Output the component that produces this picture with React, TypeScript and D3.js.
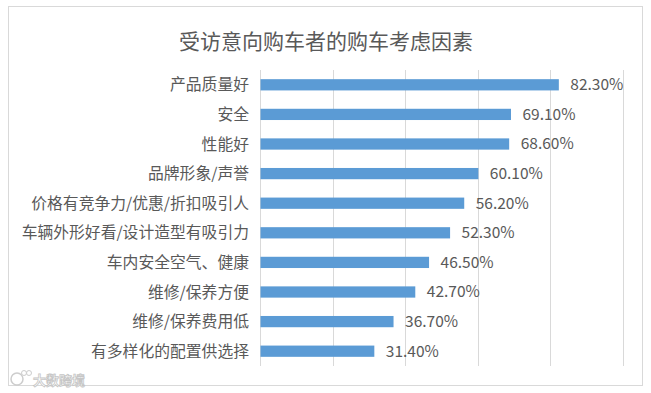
import React from "react";
import * as d3 from "d3";

const title = "受访意向购车者的购车考虑因素";
const categories = [
  "产品质量好",
  "安全",
  "性能好",
  "品牌形象/声誉",
  "价格有竞争力/优惠/折扣吸引人",
  "车辆外形好看/设计造型有吸引力",
  "车内安全空气、健康",
  "维修/保养方便",
  "维修/保养费用低",
  "有多样化的配置供选择",
];
const values = [82.3, 69.1, 68.6, 60.1, 56.2, 52.3, 46.5, 42.7, 36.7, 31.4];
const gridTicks = [0, 20, 40, 60, 80, 100];
const watermark = "大数跨境";

const W = 651;
const H = 393;
const FONT = "'Microsoft YaHei', 'Noto Sans CJK SC', sans-serif";
const TEXT = "#595959";

export default function App() {
  const x = d3.scaleLinear().domain([0, 100]).range([260, 622.5]);
  const y = d3
    .scaleBand<string>()
    .domain(categories)
    .range([70, 366])
    .paddingInner(0.62)
    .paddingOuter(0.31);

  return (
    <svg
      width={W}
      height={H}
      style={{ position: "absolute", left: 0, top: 0, background: "#fff" }}
      fontFamily={FONT}
    >
      <rect x={0} y={0} width={W} height={H} fill="#fff" />
      <rect x={8.5} y={6.5} width={634} height={379} fill="#fff" stroke="#d9d9d9" strokeWidth={1} />
      <text x={326} y={49} textAnchor="middle" fontSize={21} fill={TEXT}>
        {title}
      </text>
      {gridTicks.map((t) => (
        <line
          key={t}
          x1={Math.round(x(t)) + 0.5}
          x2={Math.round(x(t)) + 0.5}
          y1={70}
          y2={366}
          stroke="#d9d9d9"
          strokeWidth={1}
        />
      ))}
      {categories.map((c, i) => {
        const by = y(c)!;
        const bh = y.bandwidth();
        const cy = by + bh / 2;
        return (
          <g key={c}>
            <rect x={x(0) + 0.5} y={by} width={x(values[i]) - x(0)} height={bh} fill="#5b9bd5" />
            <text x={249} y={cy} dy="0.35em" textAnchor="end" fontSize={15.8} fill={TEXT}>
              {c}
            </text>
            <text x={x(values[i]) + 12} y={cy} dy="0.35em" fontSize={15.5} fill={TEXT}>
              {values[i].toFixed(2) + "%"}
            </text>
          </g>
        );
      })}
      <g opacity={0.9}>
        <circle cx={17} cy={379} r={6} fill="#fff" stroke="#c8c8c8" strokeWidth={1.5} />
        <circle cx={24} cy={373} r={2.5} fill="#fff" stroke="#c8c8c8" strokeWidth={1} />
        <circle cx={29} cy={373} r={2.5} fill="#fff" stroke="#c8c8c8" strokeWidth={1} />
        <text x={33} y={385} fontSize={13} fill="#fff" stroke="#c0c0c0" strokeWidth={0.8} fontWeight="bold">
          {watermark}
        </text>
      </g>
    </svg>
  );
}
